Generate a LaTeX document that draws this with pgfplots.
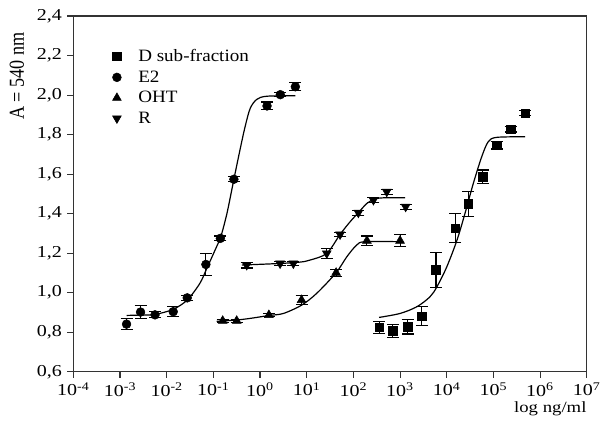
\documentclass[border=0pt]{standalone}
\usepackage{fontspec}
\setmainfont[FakeStretch=1.2]{Liberation Serif}
\newfontfamily\legfont[FakeStretch=1.1]{Liberation Serif}
\newfontfamily\ylabfont[FakeStretch=0.85]{Liberation Serif}
\usepackage{pgfplots}
\pgfplotsset{compat=1.18}

\begin{document}
\begin{tikzpicture}
\begin{axis}[
  scale only axis,
  width=385pt, height=266.8pt,
  xmin=-4, xmax=7, ymin=0.6, ymax=2.4,
  xtick={-4,...,7},
  xticklabels={10\textsuperscript{-4},10\textsuperscript{-3},10\textsuperscript{-2},10\textsuperscript{-1},10\textsuperscript{0},10\textsuperscript{1},10\textsuperscript{2},10\textsuperscript{3},10\textsuperscript{4},10\textsuperscript{5},10\textsuperscript{6},10\textsuperscript{7}},
  ytick={0.6,0.8,...,2.41},
  yticklabels={{0,6},{0,8},{1,0},{1,2},{1,4},{1,6},{1,8},{2,0},{2,2},{2,4}},
  xtick pos=bottom, ytick pos=left,
  tick align=outside, major tick length=4.5pt,
  axis line style={black!80, line width=0.8pt},
  tick style={black!80, line width=0.8pt},
  tick label style={font=\fontsize{12.5}{14}\selectfont},
  yticklabel style={xshift=-0.5pt},
  every axis y label/.style={at={(axis description cs:-0.110,0.831)}, rotate=90, anchor=center, font=\ylabfont\fontsize{16}{18}\selectfont},
  every axis x label/.style={at={(axis description cs:1,-0.105)}, anchor=east, inner sep=0pt, font=\fontsize{11.7}{14}\selectfont},
  ylabel={A = 540 nm},
  xlabel={log ng/ml},
  legend style={draw=none, fill=none, at={(0.068,0.922)}, anchor=north west,
    font=\legfont\fontsize{13}{15}\selectfont, row sep=1.3pt},
  legend cell align=left,
  legend image code/.code={\draw[#1] plot coordinates {(0pt,0pt)}; \path[draw=none,fill=none] (0pt,0pt) -- (14pt,0pt);},
  error bars/y dir=both, error bars/y explicit,
  error bars/error bar style={black, line width=0.8pt},
  error bars/error mark options={black, mark size=4.5pt, line width=0.8pt, rotate=90},
]
% measured points
\addplot[only marks, mark=square*, mark size=3.2pt, black] coordinates {
(2.55,0.825)+-(0,0.029) (2.845,0.807)+-(0,0.034) (3.165,0.828)+-(0,0.037)
(3.465,0.882)+-(0,0.047) (3.77,1.115)+-(0,0.088) (4.18,1.326)+-(0,0.074)
(4.46,1.449)+-(0,0.065) (4.77,1.587)+-(0,0.034) (5.07,1.747)+-(0,0.02)
(5.37,1.828)+-(0,0.015) (5.68,1.908)+-(0,0.012)
};
\addlegendentry{D sub-fraction}
\addplot[only marks, mark=*, mark size=3.3pt, black] coordinates {
(-2.86,0.841)+-(0,0.028) (-2.56,0.902)+-(0,0.034) (-2.25,0.888)+-(0,0.015)
(-1.86,0.904)+-(0,0.025) (-1.56,0.974)+-(0,0.012) (-1.16,1.143)+-(0,0.057)
(-0.85,1.275)+-(0,0.012) (-0.56,1.574)+-(0,0.012) (0.15,1.945)+-(0,0.02)
(0.435,2.002)+-(0,0.01) (0.757,2.042)+-(0,0.02)
};
\addlegendentry{E2}
\addplot[only marks, mark=triangle*, mark size=3.8pt, black] coordinates {
(-0.80,0.858)+-(0,0.008) (-0.50,0.858)+-(0,0.008) (0.19,0.887)+-(0,0.008)
(0.89,0.963)+-(0,0.022) (1.63,1.101)+-(0,0.018) (2.29,1.263)+-(0,0.024)
(3.0,1.263)+-(0,0.03)
};
\addlegendentry{OHT}
\addplot[only marks, mark=triangle*, mark options={rotate=180}, mark size=3.8pt, black] coordinates {
(-0.285,1.140)+-(0,0.015) (0.43,1.148)+-(0,0.01) (0.714,1.148)+-(0,0.01)
(1.43,1.199)+-(0,0.025) (1.715,1.295)+-(0,0.012) (2.107,1.405)+-(0,0.012)
(2.43,1.469)+-(0,0.012) (2.715,1.511)+-(0,0.012) (3.12,1.435)+-(0,0.012)
};
\addlegendentry{R}
% fitted curves
\addplot[smooth, no marks, black, line width=0.9pt, forget plot, error bars/y dir=none] coordinates {
(2.55,0.875)(3.0,0.895)(3.36,0.929)(3.64,0.979)(3.79,1.03)(4.0,1.13)(4.22,1.266)
(4.39,1.40)(4.57,1.553)(4.75,1.688)(4.89,1.764)(5.07,1.786)(5.68,1.789)
};
\addplot[smooth, no marks, black, line width=0.9pt, forget plot, error bars/y dir=none] coordinates {
(-2.86,0.885)(-2.56,0.887)(-2.25,0.890)(-1.86,0.916)(-1.56,0.963)(-1.29,1.047)(-1.14,1.123)
(-0.93,1.233)(-0.85,1.275)(-0.71,1.40)(-0.56,1.574)(-0.43,1.722)(-0.32,1.84)
(-0.21,1.933)(-0.07,1.978)(0.14,1.994)(0.757,1.997)
};
\addplot[smooth, no marks, black, line width=0.9pt, forget plot, error bars/y dir=none] coordinates {
(-0.93,0.855)(-0.5,0.862)(-0.214,0.870)(0.2,0.885)(0.5,0.895)(0.89,0.937)(1.215,0.997)
(1.63,1.101)(1.86,1.182)(2.07,1.241)(2.25,1.258)(3.07,1.258)
};
\addplot[smooth, no marks, black, line width=0.9pt, forget plot, error bars/y dir=none] coordinates {
(-0.39,1.14)(0.43,1.148)(0.86,1.155)(1.07,1.165)(1.43,1.199)(1.715,1.295)(1.93,1.359)
(2.107,1.405)(2.29,1.452)(2.46,1.474)(2.64,1.480)(3.11,1.48)
};
\coordinate (sw) at (rel axis cs:0,0);
\coordinate (ne) at (rel axis cs:1,1);
\end{axis}
\pgfresetboundingbox
\path ([xshift=-55pt,yshift=-43pt]sw) rectangle ([xshift=13.7pt,yshift=12pt]ne);
\end{tikzpicture}
\end{document}
